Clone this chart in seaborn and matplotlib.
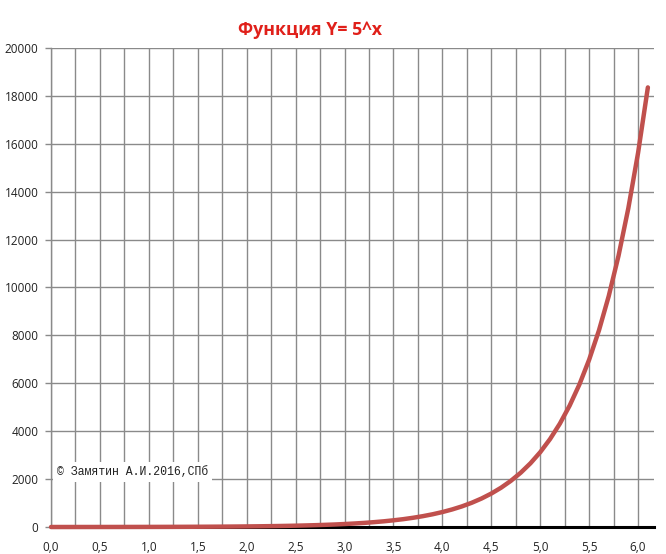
import numpy as np
import pandas as pd
import matplotlib
matplotlib.use("Agg")
import matplotlib.pyplot as plt
import seaborn as sns
from matplotlib.ticker import MultipleLocator, FuncFormatter

# data (Y = 5^x)
x_vals = [0.0, 0.1, 0.2, 0.3, 0.4, 0.5, 0.6, 0.7, 0.8, 0.9,
          1.0, 1.1, 1.2, 1.3, 1.4, 1.5, 1.6, 1.7, 1.8, 1.9,
          2.0, 2.1, 2.2, 2.3, 2.4, 2.5, 2.6, 2.7, 2.8, 2.9,
          3.0, 3.1, 3.2, 3.3, 3.4, 3.5, 3.6, 3.7, 3.8, 3.9,
          4.0, 4.1, 4.2, 4.3, 4.4, 4.5, 4.6, 4.7, 4.8, 4.9,
          5.0, 5.1, 5.2, 5.3, 5.4, 5.5, 5.6, 5.7, 5.8, 5.9,
          6.0, 6.1]
y_vals = [1, 1.17, 1.38, 1.62, 1.9, 2.24, 2.63, 3.09, 3.62, 4.26,
          5, 5.87, 6.9, 8.1, 9.52, 11.2, 13.1, 15.4, 18.1, 21.3,
          25, 29.4, 34.5, 40.5, 47.6, 55.9, 65.7, 77.1, 90.6, 106,
          125, 147, 172, 203, 238, 280, 328, 386, 453, 532,
          625, 734, 862, 1013, 1190, 1398, 1642, 1929, 2266, 2661,
          3125, 3671, 4312, 5065, 5949, 6988, 8208, 9642, 11325, 13303,
          15625, 18354]
title_text = "Функция Y= 5^x"
watermark_sign = "©"
watermark = "Замятин А.И.2016,СПб"

df = pd.DataFrame({"x": x_vals, "y": y_vals})

sns.set_theme(style="white")
plt.rcParams['font.family'] = ['Open Sans', 'DejaVu Sans']

fig = plt.figure(figsize=(6.66, 5.54), dpi=100)
ax = fig.add_axes([0.0766, 0.0487, 0.905, 0.8647])

ax.set_xlim(0, 6.16)
ax.set_ylim(0, 20000)
ax.xaxis.set_major_locator(MultipleLocator(0.5))
ax.xaxis.set_minor_locator(MultipleLocator(0.25))
ax.yaxis.set_major_locator(MultipleLocator(2000))
ax.xaxis.set_major_formatter(FuncFormatter(lambda v, p: f"{v:.1f}".replace(".", ",")))
ax.yaxis.set_major_formatter(FuncFormatter(lambda v, p: f"{int(round(v))}"))

ax.grid(True, which="both", axis="x", color="#8a8a8a", linewidth=1)
ax.grid(True, which="major", axis="y", color="#8a8a8a", linewidth=1)
ax.set_axisbelow(True)
for s in ["top", "right"]:
    ax.spines[s].set_visible(False)
ax.spines["left"].set_color("#8a8a8a")
ax.spines["left"].set_linewidth(1)
ax.spines["bottom"].set_color("black")
ax.spines["bottom"].set_linewidth(2.2)

ax.tick_params(axis="y", which="major", length=4, width=1, color="#8a8a8a",
               left=True, labelsize=8.5, pad=5)
ax.tick_params(axis="x", which="both", length=0, labelsize=8.5, pad=10)
for lab in ax.get_xticklabels() + ax.get_yticklabels():
    lab.set_color("#222222")

sns.lineplot(data=df, x="x", y="y", ax=ax, color="#C0504D", linewidth=3.2,
             zorder=5, clip_on=False)
ax.set_xlabel("")
ax.set_ylabel("")

fig.text(0.465, 0.945, title_text, ha="center", va="center", color="#E0201A",
         fontsize=12.8, fontweight="bold")

ax.text(0.06, 2300, watermark_sign + " " + watermark,
        family=["Liberation Mono", "DejaVu Sans Mono"],
        fontsize=8.3, color="#222222", ha="left", va="center", zorder=6,
        bbox=dict(facecolor="white", edgecolor="none", pad=3))

fig.savefig("out.png", dpi=100, facecolor="white")
